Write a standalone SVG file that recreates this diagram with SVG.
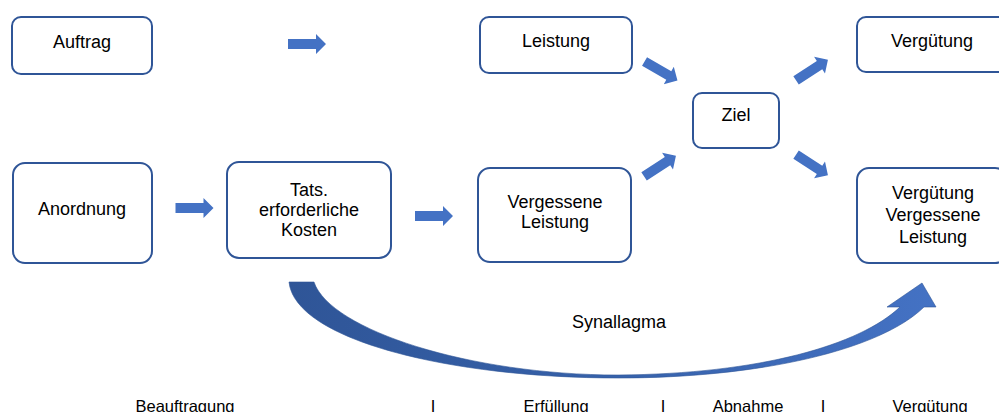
<svg xmlns="http://www.w3.org/2000/svg" width="999" height="412" viewBox="0 0 999 412">
<style>
.box{fill:#fff;stroke:#2F5597;stroke-width:2}
.t{font-family:"Liberation Sans",Arial,sans-serif;font-size:18px;fill:#000;text-anchor:middle}
.b{font-family:"Liberation Sans",Arial,sans-serif;font-size:16.5px;fill:#000;text-anchor:middle}
.arr{fill:#4472C4}
</style>
<defs>
<path id="blk" d="M-19,-5 H9 V-10 L19,0 L9,10 V5 H-19 Z"/>
<linearGradient id="g" x1="289" y1="0" x2="936" y2="0" gradientUnits="userSpaceOnUse">
<stop offset="0" stop-color="#2F5597"/>
<stop offset="0.45" stop-color="#3560A8"/>
<stop offset="1" stop-color="#4472C4"/>
</linearGradient>
</defs>
<rect width="999" height="412" fill="#fff"/>
<g id="auftrag"><rect class="box" x="12" y="17" width="140" height="57" rx="9"/><text class="t" x="82" y="48">Auftrag</text></g>
<g id="leistung"><rect class="box" x="480" y="17" width="152" height="56" rx="9"/><text class="t" x="556" y="47">Leistung</text></g>
<g id="verguetung"><rect class="box" x="857" y="17" width="150" height="55" rx="9"/><text class="t" x="932" y="47">Vergütung</text></g>
<g id="ziel"><rect class="box" x="693" y="93" width="86" height="55" rx="9"/><text class="t" x="736" y="121">Ziel</text></g>
<g id="anordnung"><rect class="box" x="13" y="163" width="139" height="100" rx="12"/><text class="t" x="82" y="215">Anordnung</text></g>
<g id="kosten"><rect class="box" x="227" y="162" width="164" height="96" rx="12"/><text class="t" x="309" y="196">Tats.</text><text class="t" x="309" y="216">erforderliche</text><text class="t" x="309" y="236">Kosten</text></g>
<g id="vergessene"><rect class="box" x="478" y="168" width="153" height="94" rx="12"/><text class="t" x="555" y="208">Vergessene</text><text class="t" x="555" y="228">Leistung</text></g>
<g id="verguetung2"><rect class="box" x="857" y="168" width="150" height="95" rx="12"/><text class="t" x="933" y="199">Vergütung</text><text class="t" x="933" y="221">Vergessene</text><text class="t" x="933" y="243">Leistung</text></g>
<g id="connectors">
<use href="#blk" class="arr" transform="translate(307,44)"/>
<use href="#blk" class="arr" transform="translate(194.5,208)"/>
<use href="#blk" class="arr" transform="translate(434,216)"/>
<use href="#blk" class="arr" transform="translate(661,71) rotate(30)"/>
<use href="#blk" class="arr" transform="translate(660,166) rotate(-33)"/>
<use href="#blk" class="arr" transform="translate(812,70) rotate(-33)"/>
<use href="#blk" class="arr" transform="translate(812,165) rotate(33)"/>
<path fill="url(#g)" stroke="#2F5597" stroke-width="0.6" d="M289,282 C295,340 450,378 618,378 C760,378 880,350 924,307 L936,307 L922,283 L887,307 L900,307 C860,345 760,374 618,375 C470,375 330,330 314,282 Z"/>
</g>
<text class="t" x="619" y="328">Synallagma</text>
<g id="phases">
<text class="b" x="185" y="412">Beauftragung</text>
<text class="b" x="433" y="412">I</text>
<text class="b" x="556" y="412">Erfüllung</text>
<text class="b" x="663" y="412">I</text>
<text class="b" x="748" y="412">Abnahme</text>
<text class="b" x="823" y="412">I</text>
<text class="b" x="930" y="412">Vergütung</text>
</g>
</svg>
